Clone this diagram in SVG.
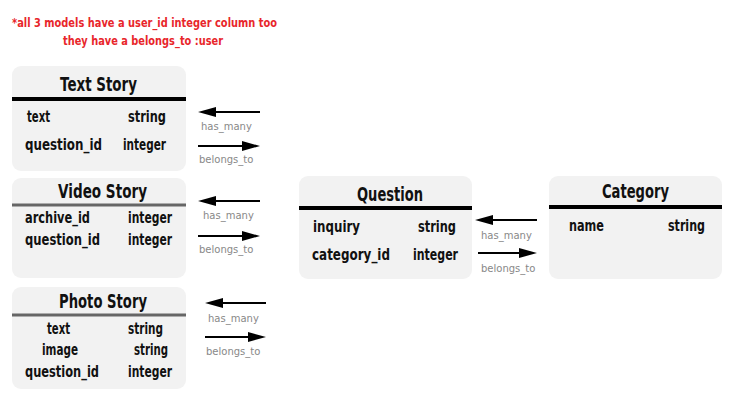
<svg xmlns="http://www.w3.org/2000/svg" width="750" height="400" viewBox="0 0 750 400">
<defs>
<style>
.box{fill:#f2f2f2}
.title{font-family:"DejaVu Sans",sans-serif;font-weight:bold;font-size:19px;fill:#111}
.row{font-family:"DejaVu Sans",sans-serif;font-weight:bold;font-size:16px;fill:#111}
.lbl{font-family:"DejaVu Sans",sans-serif;font-size:10px;fill:#888}
.note{font-family:"DejaVu Sans",sans-serif;font-weight:bold;font-size:13px;fill:#e8262b}
.arr{stroke:#000;stroke-width:2;fill:none}
.hd{fill:#000}
</style>
</defs>
<rect width="750" height="400" fill="#fff"/>
<g id="note">
<text class="note" x="12" y="27" textLength="265" lengthAdjust="spacingAndGlyphs">*all 3 models have a user_id integer column too</text>
<text class="note" x="63" y="45" textLength="160" lengthAdjust="spacingAndGlyphs">they have a belongs_to :user</text>
</g>
<g id="text-story">
<rect class="box" x="12" y="66" width="174" height="105" rx="9"/>
<text class="title" x="60" y="91" textLength="77" lengthAdjust="spacingAndGlyphs">Text Story</text>
<line x1="12" y1="99" x2="186" y2="99" stroke="#000" stroke-width="4"/>
<text class="row" x="27" y="122" textLength="23" lengthAdjust="spacingAndGlyphs">text</text>
<text class="row" x="128" y="122" textLength="38" lengthAdjust="spacingAndGlyphs">string</text>
<text class="row" x="25" y="150" textLength="77" lengthAdjust="spacingAndGlyphs">question_id</text>
<text class="row" x="123" y="150" textLength="43" lengthAdjust="spacingAndGlyphs">integer</text>
</g>
<g id="video-story">
<rect class="box" x="12" y="178" width="174" height="100" rx="9"/>
<text class="title" x="58" y="198" textLength="89" lengthAdjust="spacingAndGlyphs">Video Story</text>
<line x1="12" y1="205" x2="186" y2="205" stroke="#666" stroke-width="3"/>
<text class="row" x="25" y="223" textLength="65" lengthAdjust="spacingAndGlyphs">archive_id</text>
<text class="row" x="128" y="223" textLength="44" lengthAdjust="spacingAndGlyphs">integer</text>
<text class="row" x="25" y="245" textLength="75" lengthAdjust="spacingAndGlyphs">question_id</text>
<text class="row" x="128" y="245" textLength="44" lengthAdjust="spacingAndGlyphs">integer</text>
</g>
<g id="photo-story">
<rect class="box" x="12" y="287" width="174" height="102" rx="9"/>
<text class="title" x="59" y="308" textLength="88" lengthAdjust="spacingAndGlyphs">Photo Story</text>
<line x1="12" y1="315" x2="186" y2="315" stroke="#666" stroke-width="3"/>
<text class="row" x="47" y="334" textLength="23" lengthAdjust="spacingAndGlyphs">text</text>
<text class="row" x="128" y="334" textLength="35" lengthAdjust="spacingAndGlyphs">string</text>
<text class="row" x="42" y="355" textLength="36" lengthAdjust="spacingAndGlyphs">image</text>
<text class="row" x="134" y="355" textLength="34" lengthAdjust="spacingAndGlyphs">string</text>
<text class="row" x="25" y="377" textLength="74" lengthAdjust="spacingAndGlyphs">question_id</text>
<text class="row" x="128" y="377" textLength="44" lengthAdjust="spacingAndGlyphs">integer</text>
</g>
<g id="question">
<rect class="box" x="299" y="176" width="173" height="103" rx="9"/>
<text class="title" x="357" y="201" textLength="66" lengthAdjust="spacingAndGlyphs">Question</text>
<line x1="299" y1="208" x2="472" y2="208" stroke="#000" stroke-width="4"/>
<text class="row" x="313" y="232" textLength="47" lengthAdjust="spacingAndGlyphs">inquiry</text>
<text class="row" x="418" y="232" textLength="38" lengthAdjust="spacingAndGlyphs">string</text>
<text class="row" x="312" y="260" textLength="78" lengthAdjust="spacingAndGlyphs">category_id</text>
<text class="row" x="413" y="260" textLength="45" lengthAdjust="spacingAndGlyphs">integer</text>
</g>
<g id="category">
<rect class="box" x="549" y="176" width="173" height="103" rx="9"/>
<text class="title" x="602" y="198" textLength="67" lengthAdjust="spacingAndGlyphs">Category</text>
<line x1="549" y1="207" x2="722" y2="207" stroke="#000" stroke-width="4"/>
<text class="row" x="569" y="231" textLength="35" lengthAdjust="spacingAndGlyphs">name</text>
<text class="row" x="668" y="231" textLength="37" lengthAdjust="spacingAndGlyphs">string</text>
</g>
<g id="connectors">
<line class="arr" x1="260" y1="112" x2="214" y2="112"/><polygon class="hd" points="198,112 216,107 216,117"/>
<text class="lbl" x="201" y="130">has_many</text>
<line class="arr" x1="198" y1="146" x2="244" y2="146"/><polygon class="hd" points="260,146 242,141 242,151"/>
<text class="lbl" x="199" y="163">belongs_to</text>
<line class="arr" x1="260" y1="201" x2="214" y2="201"/><polygon class="hd" points="198,201 216,196 216,206"/>
<text class="lbl" x="203" y="219">has_many</text>
<line class="arr" x1="198" y1="236" x2="244" y2="236"/><polygon class="hd" points="260,236 242,231 242,241"/>
<text class="lbl" x="199" y="253">belongs_to</text>
<line class="arr" x1="266" y1="303" x2="221" y2="303"/><polygon class="hd" points="205,303 223,298 223,308"/>
<text class="lbl" x="208" y="322">has_many</text>
<line class="arr" x1="205" y1="337" x2="250" y2="337"/><polygon class="hd" points="266,337 248,332 248,342"/>
<text class="lbl" x="206" y="355">belongs_to</text>
<line class="arr" x1="537" y1="220" x2="491" y2="220"/><polygon class="hd" points="475,220 493,215 493,225"/>
<text class="lbl" x="481" y="239">has_many</text>
<line class="arr" x1="478" y1="253" x2="521" y2="253"/><polygon class="hd" points="537,253 519,248 519,258"/>
<text class="lbl" x="481" y="272">belongs_to</text>
</g>
</svg>
